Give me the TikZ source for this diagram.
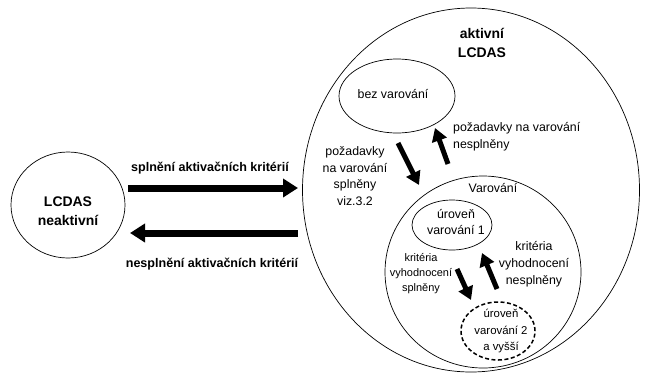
\documentclass[tikz,border=0pt]{standalone}
\usepackage{fontspec}
\setmainfont{Liberation Sans}
\usetikzlibrary{shapes.geometric,arrows.meta}
\begin{document}
\begin{tikzpicture}[x=1bp,y=-1bp,
  st/.style={draw, ellipse, inner sep=0pt, line width=0.7bp},
  lbl/.style={font=\fontsize{12.4}{16.8}\selectfont, align=center, inner sep=0pt},
  lbll/.style={font=\fontsize{12.4}{16.8}\selectfont, align=left, inner sep=0pt, anchor=west},
  smalllbl/.style={font=\fontsize{11}{15}\selectfont, align=center, inner sep=0pt},
  u2lbl/.style={font=\fontsize{11.4}{16.5}\selectfont, align=center, inner sep=0pt},
  arrlbl/.style={font=\bfseries\fontsize{12.6}{16}\selectfont, align=center, inner sep=0pt},
  titlelbl/.style={font=\bfseries\fontsize{14}{19}\selectfont, align=center, inner sep=0pt},
  bigarrow/.style={line width=7bp, -{Triangle[length=15bp,width=18bp]}},
  midarrow/.style={line width=5bp, -{Triangle[length=13bp,width=15bp]}}]
\useasboundingbox (0,0) rectangle (645,378);
% ellipses
\node[st, minimum width=114bp, minimum height=106bp] (neak) at (68,205) {};
\node[st, minimum width=337bp, minimum height=364bp] (akt) at (471,190) {};
\node[st, minimum width=116bp, minimum height=74bp] (bez) at (397,96) {};
\node[st, minimum width=196bp, minimum height=192bp] (var) at (483,272) {};
\node[st, minimum width=80bp, minimum height=50bp] (u1) at (452,225) {};
\node[st, dashed, line width=1.5bp, dash pattern=on 4bp off 2.5bp, minimum width=74bp, minimum height=58bp] (u2) at (498,331) {};
% texts
\node[titlelbl] (tneak) at (68,211) {LCDAS\\neaktivní};
\node[titlelbl] (takt) at (482,43) {aktivní\\LCDAS};
\node[lbl] (tbez) at (393,94) {bez varování};
\node[lbl] (tvar) at (493,188) {Varování};
\node[lbl] (tu1) at (456,222) {úroveň\\varování 1};
\node[u2lbl] (tu2) at (501,331) {úroveň\\varování 2\\a vyšší};
\node[arrlbl] (tspl) at (210,168) {splnění aktivačních kritérií};
\node[arrlbl] (tnespl) at (212,264) {nesplnění aktivačních kritérií};
\node[lbll] (tpozn) at (453,137) {požadavky na varování\\nesplněny};
\node[lbl] (tpozs) at (355,176) {požadavky\\na varování\\splněny\\viz.3.2};
\node[smalllbl] (tkrs) at (421,274) {kritéria\\vyhodnocení\\splněny};
\node[lbl] (tkrn) at (534,264) {kritéria\\vyhodnocení\\nesplněny};
% arrow endpoints
\coordinate (a1s) at (128,188);
\coordinate (a1e) at (298,188);
\coordinate (a2s) at (298,233);
\coordinate (a2e) at (130,233);
\coordinate (a3s) at (398,143);
\coordinate (a3e) at (419,185);
\coordinate (a4s) at (448,164);
\coordinate (a4e) at (435,128);
\coordinate (a5s) at (457,269);
\coordinate (a5e) at (471,300);
\coordinate (a6s) at (497,289);
\coordinate (a6e) at (482,253);
\draw[bigarrow] (a1s) -- (a1e);
\draw[bigarrow] (a2s) -- (a2e);
\draw[midarrow] (a3s) -- (a3e);
\draw[midarrow] (a4s) -- (a4e);
\draw[midarrow] (a5s) -- (a5e);
\draw[midarrow] (a6s) -- (a6e);
\end{tikzpicture}
\end{document}
